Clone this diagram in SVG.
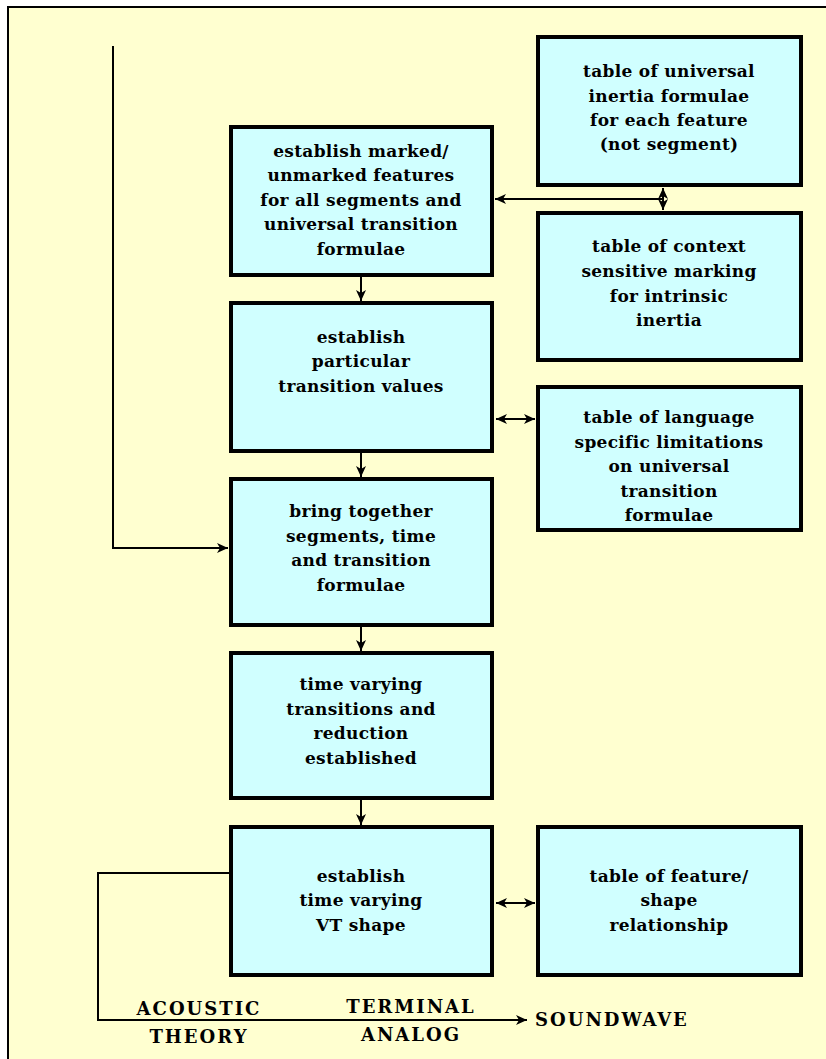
<svg xmlns="http://www.w3.org/2000/svg" width="826" height="1059" viewBox="0 0 826 1059">
<style>
.bx{fill:#D0FFFF;stroke:#000;stroke-width:4}
.t{font-family:"DejaVu Serif",serif;font-weight:bold;font-size:17px;letter-spacing:0.3px;fill:#000;text-anchor:middle}
.cap{font-family:"DejaVu Serif",serif;font-weight:bold;font-size:18px;fill:#000;letter-spacing:2px}
.mid{text-anchor:middle}
.ln{fill:none;stroke:#000;stroke-width:2}
</style>
<defs>
<marker id="ae" markerUnits="userSpaceOnUse" markerWidth="12" markerHeight="10" refX="11" refY="5" orient="auto"><path d="M0,0 L11,5 L0,10 L3,5 Z" fill="#000"/></marker>
<marker id="as" markerUnits="userSpaceOnUse" markerWidth="12" markerHeight="10" refX="0" refY="5" orient="auto"><path d="M11,0 L0,5 L11,10 L8,5 Z" fill="#000"/></marker>
</defs>
<rect x="0" y="0" width="826" height="1059" fill="#fff"/>
<rect x="8" y="7" width="830" height="1060" fill="#FFFFD0" stroke="#000" stroke-width="2"/>

<g id="connectors">
<path class="ln" d="M113,46 V548 H228" marker-end="url(#ae)"/>
<path class="ln" d="M663,199 H495" marker-end="url(#ae)"/>
<path class="ln" d="M663,188 V210" marker-start="url(#as)" marker-end="url(#ae)"/>
<path class="ln" d="M361,277 V301" marker-end="url(#ae)"/>
<path class="ln" d="M496,419 H535" marker-start="url(#as)" marker-end="url(#ae)"/>
<path class="ln" d="M361,453 V477" marker-end="url(#ae)"/>
<path class="ln" d="M361,627 V651" marker-end="url(#ae)"/>
<path class="ln" d="M361,800 V825" marker-end="url(#ae)"/>
<path class="ln" d="M496,903 H535" marker-start="url(#as)" marker-end="url(#ae)"/>
<path class="ln" d="M229,873 H98 V1020 H527" marker-end="url(#ae)"/>
</g>

<g id="nodeA"><rect class="bx" x="538" y="37" width="263" height="148"/>
<text class="t" x="669" y="77">table of universal</text>
<text class="t" x="669" y="102">inertia formulae</text>
<text class="t" x="669" y="126">for each feature</text>
<text class="t" x="669" y="150">(not segment)</text></g>

<g id="nodeB"><rect class="bx" x="538" y="213" width="263" height="147"/>
<text class="t" x="669" y="252">table of context</text>
<text class="t" x="669" y="277">sensitive marking</text>
<text class="t" x="669" y="302">for intrinsic</text>
<text class="t" x="669" y="326">inertia</text></g>

<g id="nodeC"><rect class="bx" x="231" y="127" width="261" height="148"/>
<text class="t" x="361" y="157">establish marked/</text>
<text class="t" x="361" y="181">unmarked features</text>
<text class="t" x="361" y="206">for all segments and</text>
<text class="t" x="361" y="230">universal transition</text>
<text class="t" x="361" y="255">formulae</text></g>

<g id="nodeD"><rect class="bx" x="231" y="303" width="261" height="148"/>
<text class="t" x="361" y="343">establish</text>
<text class="t" x="361" y="367">particular</text>
<text class="t" x="361" y="392">transition values</text></g>

<g id="nodeE"><rect class="bx" x="538" y="387" width="263" height="143"/>
<text class="t" x="669" y="423">table of language</text>
<text class="t" x="669" y="448">specific limitations</text>
<text class="t" x="669" y="472">on universal</text>
<text class="t" x="669" y="497">transition</text>
<text class="t" x="669" y="521">formulae</text></g>

<g id="nodeF"><rect class="bx" x="231" y="479" width="261" height="146"/>
<text class="t" x="361" y="517">bring together</text>
<text class="t" x="361" y="542">segments, time</text>
<text class="t" x="361" y="566">and transition</text>
<text class="t" x="361" y="591">formulae</text></g>

<g id="nodeG"><rect class="bx" x="231" y="653" width="261" height="145"/>
<text class="t" x="361" y="690">time varying</text>
<text class="t" x="361" y="715">transitions and</text>
<text class="t" x="361" y="739">reduction</text>
<text class="t" x="361" y="764">established</text></g>

<g id="nodeH"><rect class="bx" x="231" y="827" width="261" height="148"/>
<text class="t" x="361" y="882">establish</text>
<text class="t" x="361" y="906">time varying</text>
<text class="t" x="361" y="931">VT shape</text></g>

<g id="nodeI"><rect class="bx" x="538" y="827" width="263" height="148"/>
<text class="t" x="669" y="882">table of feature/</text>
<text class="t" x="669" y="906">shape</text>
<text class="t" x="669" y="931">relationship</text></g>

<g id="labels">
<text class="cap mid" x="199" y="1015">ACOUSTIC</text>
<text class="cap mid" x="199" y="1043">THEORY</text>
<text class="cap mid" x="411" y="1013">TERMINAL</text>
<text class="cap mid" x="411" y="1041">ANALOG</text>
<text class="cap" x="535" y="1026">SOUNDWAVE</text>
</g>
</svg>
